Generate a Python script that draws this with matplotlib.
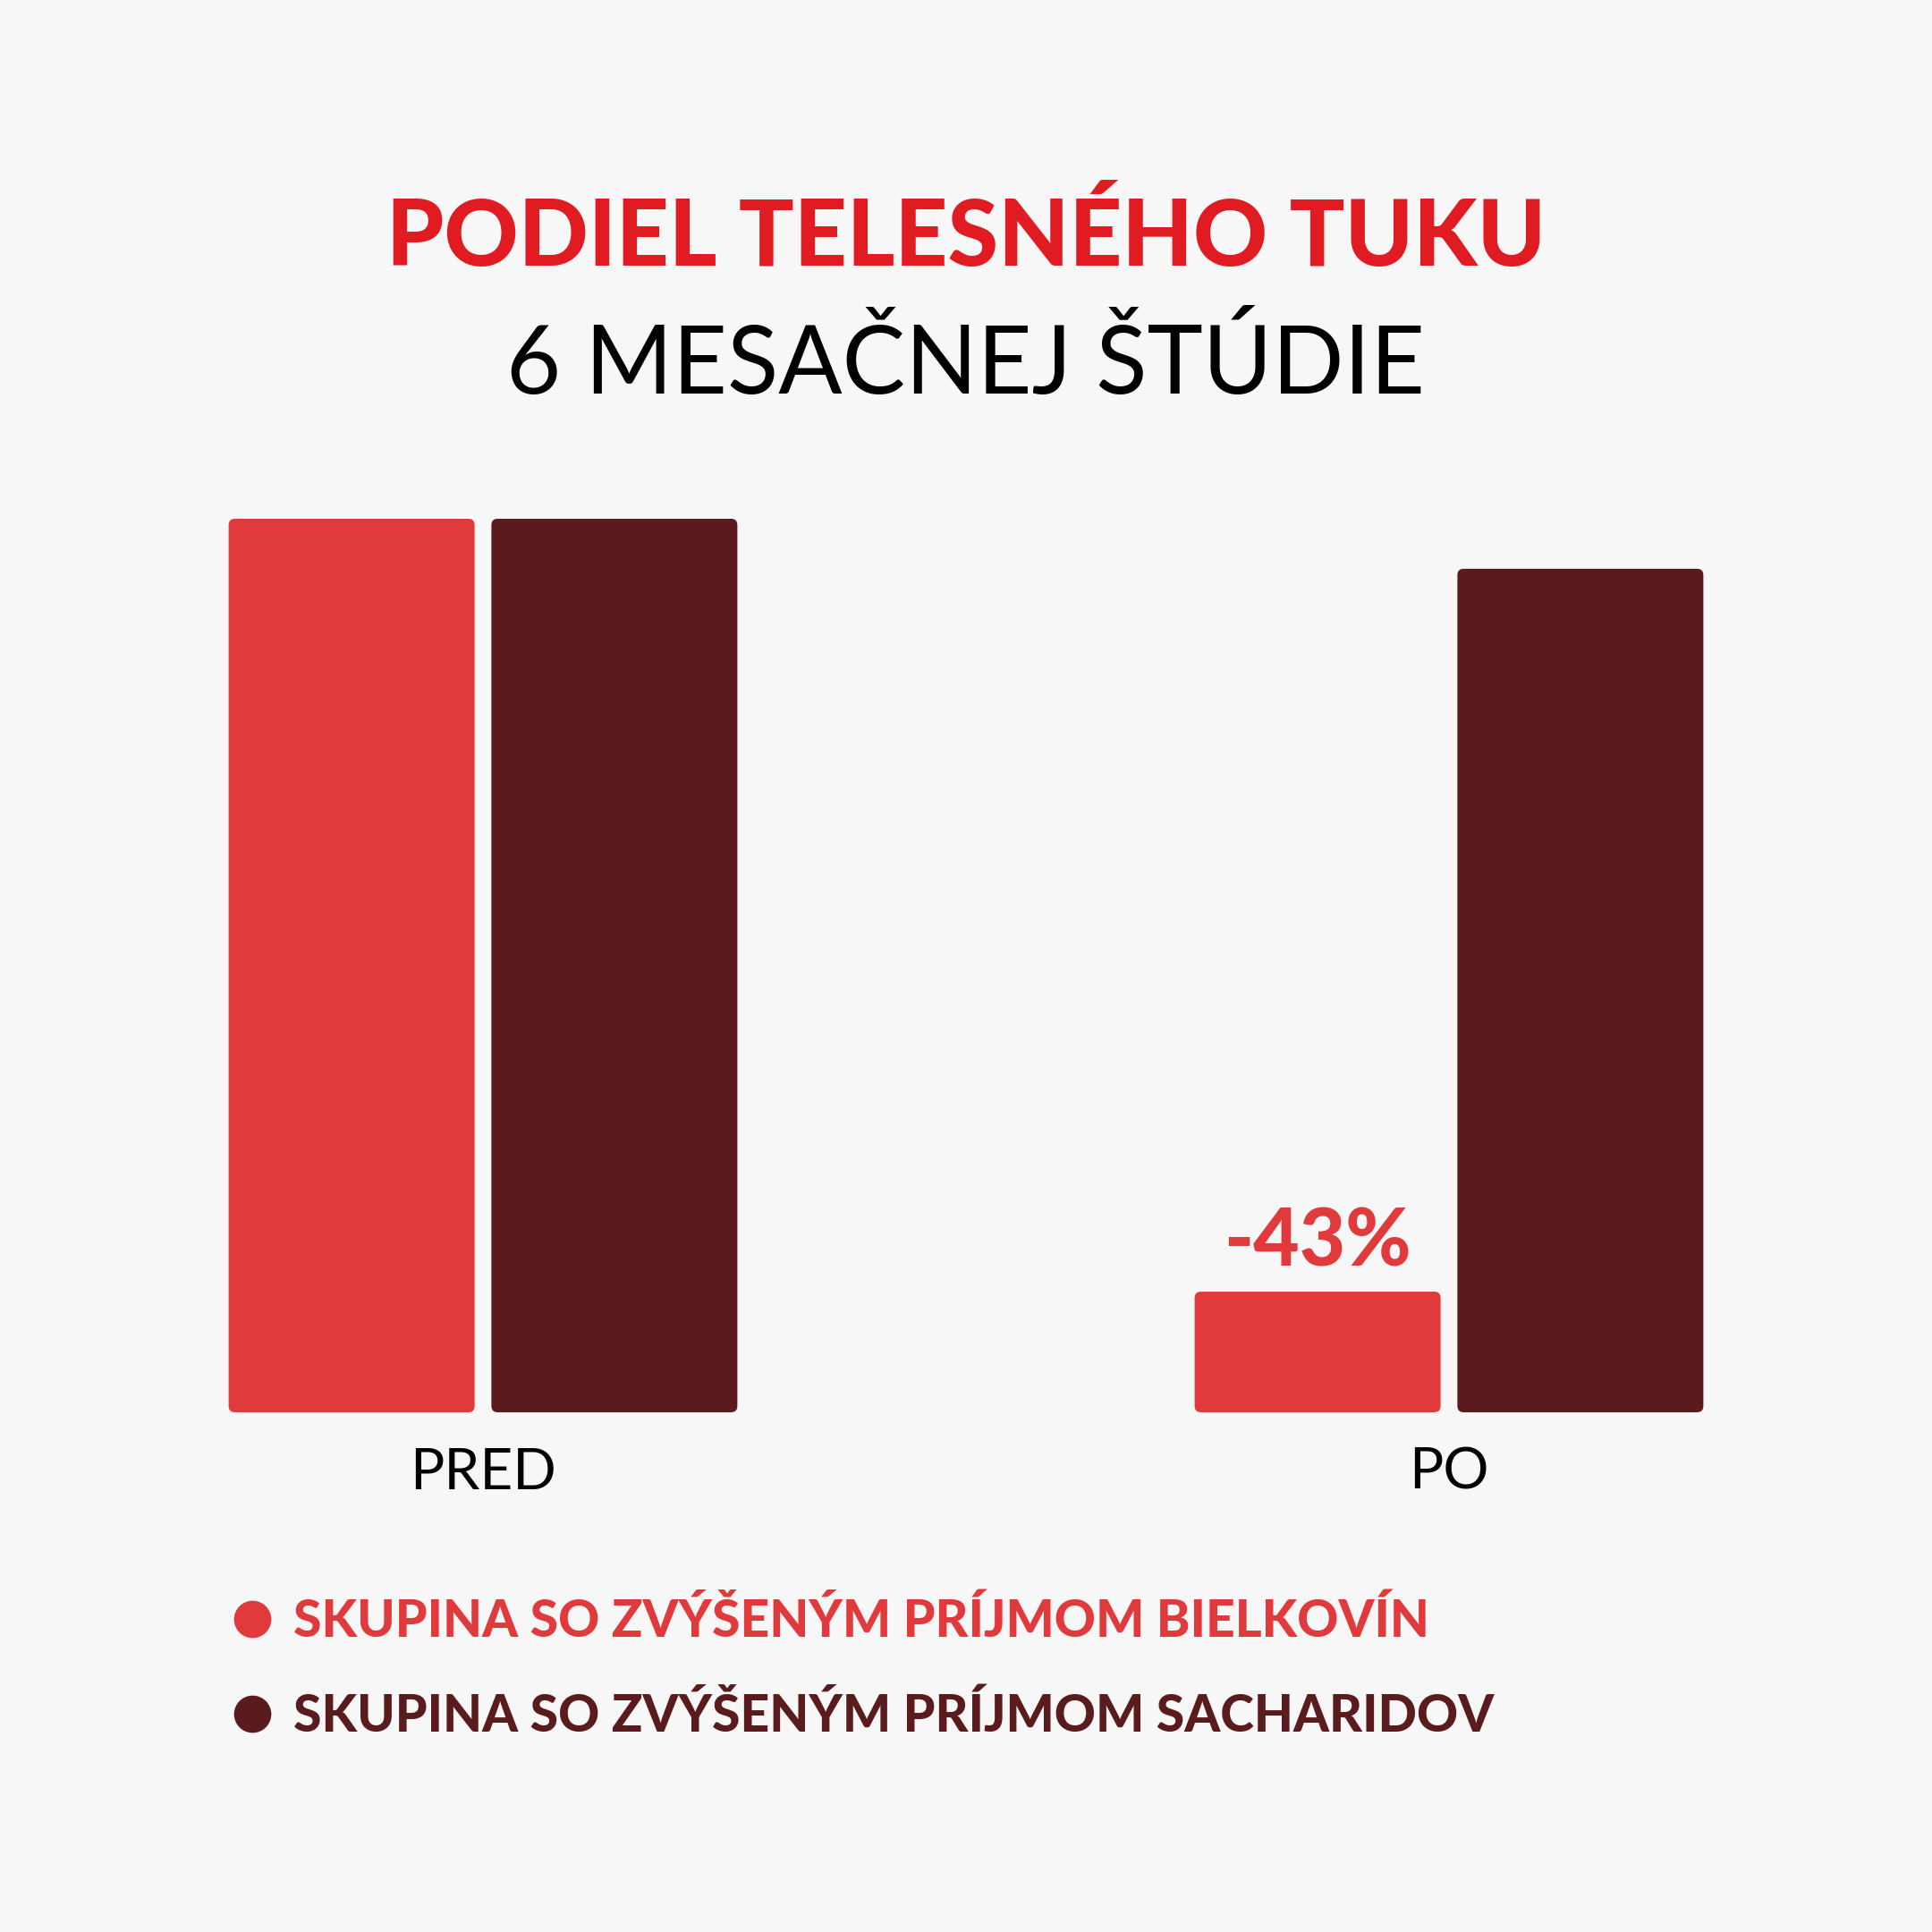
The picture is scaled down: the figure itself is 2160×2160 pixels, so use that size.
import matplotlib
matplotlib.use("Agg")
import matplotlib.pyplot as plt
from matplotlib.patches import FancyBboxPatch
from matplotlib.lines import Line2D
import numpy as np

# data
categories = ["PRED", "PO"]
protein_group = [100.0, 13.5]
carb_group = [100.0, 94.4]
series_names = ["SKUPINA SO ZVÝŠENÝM PRÍJMOM BIELKOVÍN",
                "SKUPINA SO ZVÝŠENÝM PRÍJMOM SACHARIDOV"]
change_label = "-43%"

title = "PODIEL TELESNÉHO TUKU"
subtitle = "6 MESAČNEJ ŠTÚDIE"

RED = "#e03a3c"
DARK = "#5a1b1d"
TITLE_RED = "#e01b22"
BG = "#f7f7f7"

plt.rcParams['font.family'] = ['Lato', 'DejaVu Sans']

fig = plt.figure(figsize=(10.8, 10.8), dpi=200, facecolor=BG)
ax = fig.add_axes([0.0, 0.269, 1.0, 0.4625])
ax.set_facecolor(BG)

x = np.arange(len(categories))
width = 0.2546
offset = 0.136

bars1 = ax.bar(x - offset, protein_group, width, color=RED)
bars2 = ax.bar(x + offset, carb_group, width, color=DARK)

# swap plain rectangles for slightly rounded ones
for bars in (bars1, bars2):
    for b in bars:
        bx, by = b.get_xy()
        p = FancyBboxPatch((bx, by), b.get_width(), b.get_height(),
                           boxstyle="round,pad=0,rounding_size=0.0065",
                           mutation_aspect=108, facecolor=b.get_facecolor(),
                           edgecolor="none")
        b.set_visible(False)
        ax.add_patch(p)

ax.set_xlim(-0.5, 1.5)
ax.set_ylim(0, 100)
ax.set_xticks(x)
ax.set_xticklabels(categories, fontsize=23, color="black")
ax.tick_params(axis="x", length=0, pad=14)
ax.set_yticks([])
for s in ax.spines.values():
    s.set_visible(False)

ax.annotate(change_label, (x[1] - offset, protein_group[1]),
            xytext=(0, 5), textcoords="offset points",
            ha="center", va="bottom", fontsize=32, fontweight="black", color=RED)

fig.text(0.5, 1 - 266 / 2160, title, ha="center", va="center",
         fontsize=37, fontweight="black", color=TITLE_RED)
fig.text(0.5, 1 - 408 / 2160, subtitle, ha="center", va="center",
         fontsize=38, color="black")

handles = [Line2D([], [], marker="o", linestyle="none", markersize=14,
                  markerfacecolor=c, markeredgecolor=c) for c in (RED, DARK)]
fig.legend(handles, series_names, loc="upper left",
           bbox_to_anchor=(0.1215, 1 - 1786 / 2160), frameon=False,
           labelcolor=[RED, DARK], handlelength=0.7,
           handletextpad=0.45, labelspacing=0.93, borderaxespad=0,
           borderpad=0, prop={"weight": "black", "size": 20.5})

fig.savefig("out.png", dpi=200, facecolor=BG)
